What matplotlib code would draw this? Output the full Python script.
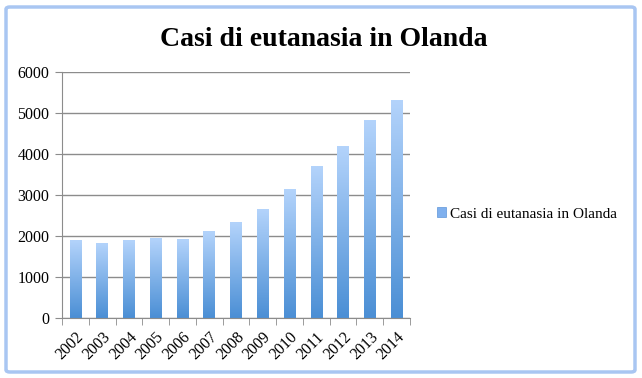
import numpy as np
import matplotlib.pyplot as plt
from matplotlib.patches import FancyBboxPatch, Patch
from matplotlib.colors import LinearSegmentedColormap

anni = ['2002', '2003', '2004', '2005', '2006', '2007', '2008',
        '2009', '2010', '2011', '2012', '2013', '2014']
casi = [1882, 1815, 1886, 1933, 1923, 2120, 2331,
        2636, 3136, 3695, 4188, 4829, 5306]
titolo = 'Casi di eutanasia in Olanda'

plt.rcParams['font.family'] = ['Liberation Serif', 'DejaVu Serif']

fig = plt.figure(figsize=(6.42, 3.78), dpi=100)

# cornice tipo finestra
cornice = FancyBboxPatch((6 / 642, 6 / 378), 629 / 642, 365 / 378,
                         boxstyle='round,pad=0,rounding_size=0.006',
                         transform=fig.transFigure, facecolor='white',
                         edgecolor='#a9c6f2', linewidth=2.5, zorder=-10)
fig.patches.append(cornice)

ax = fig.add_axes([62 / 642, 1 - 318 / 378, 348 / 642, 246 / 378])
ax.set_facecolor('none')

grad = LinearSegmentedColormap.from_list('g', ['#4b8fd5', '#b3d3fb'])
x = np.arange(len(anni))
w = 0.43
ramp = np.linspace(0, 1, 100).reshape(-1, 1)
for xi, v in zip(x, casi):
    ax.imshow(ramp, cmap=grad, origin='lower', aspect='auto',
              extent=[xi - w / 2, xi + w / 2, 0, v], zorder=2)

ax.set_xlim(-0.5, len(anni) - 0.5)
ax.set_ylim(0, 6000)
ax.set_yticks(range(0, 6001, 1000))
ax.yaxis.grid(True, color='#8c8c8c', linewidth=1)
ax.set_axisbelow(True)

ax.set_xticks(x)
ax.set_xticklabels(anni, rotation=45, ha='right', rotation_mode='anchor',
                   fontsize=11.5)
ax.set_xticks(np.arange(-0.5, len(anni), 1), minor=True)
ax.tick_params(axis='x', which='major', length=0, pad=8)
ax.tick_params(axis='x', which='minor', length=5, color='#8c8c8c')
ax.tick_params(axis='y', length=5, color='#8c8c8c', labelsize=11.5, pad=4)

for s in ['top', 'right']:
    ax.spines[s].set_visible(False)
for s in ['left', 'bottom']:
    ax.spines[s].set_color('#8c8c8c')

fig.text(0.505, 1 - 40 / 378, titolo, ha='center', va='center',
         fontsize=20, fontweight='bold')

handle = Patch(facecolor='#7fb0ee', edgecolor='#5f95d8', linewidth=0.5)
fig.legend([handle], [titolo], loc='center left',
           bbox_to_anchor=(423 / 642, 1 - 214 / 378), frameon=False,
           fontsize=11, handlelength=0.6, handleheight=0.6,
           handletextpad=0.3)

fig.savefig('out.png', dpi=100)
